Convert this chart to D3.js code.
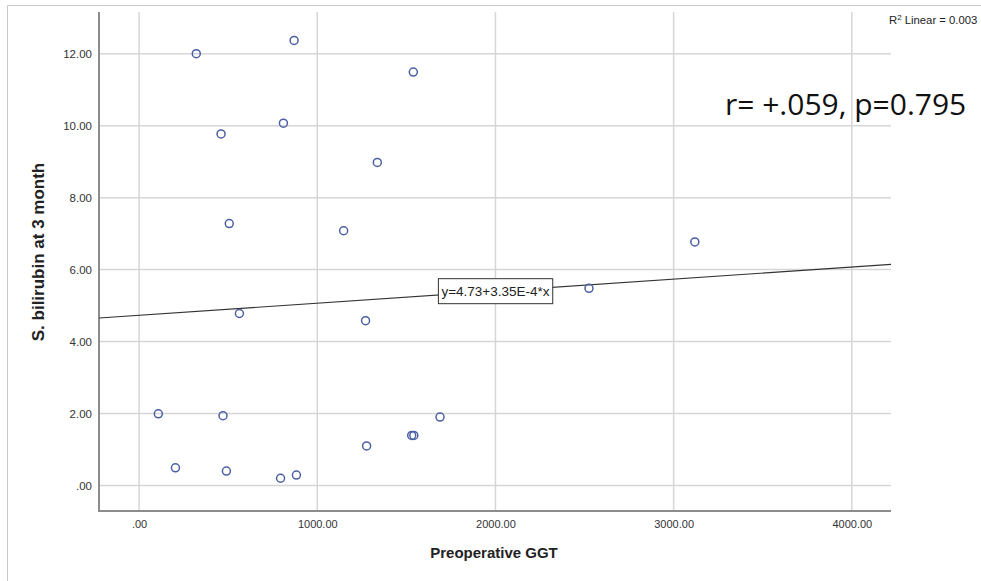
<!DOCTYPE html>
<html>
  <head>
    <meta charset="utf-8">
    <title>Preoperative GGT vs S. bilirubin</title>
    <script src="https://d3js.org/d3.v7.min.js"></script>
    <style>
      body{
        margin: 0;
        background: #fff;
      }
      text{
        font-family: "Liberation Sans", Arial, sans-serif;
      }
    </style>
  </head>
  <body>
    <div id="container"></div>
    <script>

      // DATA
      const ggt = [321, 870, 1539, 460, 810, 1337, 506, 1148, 3119, 2525, 563, 1271,
                   108, 471, 1689, 1530, 1542, 1277, 204, 490, 794, 883];
      const bili = [12.0, 12.37, 11.49, 9.77, 10.07, 8.98, 7.28, 7.08, 6.77, 5.48, 4.78, 4.58,
                    1.99, 1.94, 1.90, 1.39, 1.39, 1.10, 0.49, 0.40, 0.20, 0.29];
      const xTicks = [0, 1000, 2000, 3000, 4000];
      const yTicks = [0, 2, 4, 6, 8, 10, 12];
      const fitIntercept = 4.73, fitSlope = 3.35e-4;
      const fitLabel = "y=4.73+3.35E-4*x";
      const statText = "r= +.059, p=0.795";

      const data = ggt.map((g, i) => ({ x: g, y: bili[i] }));

      // SIZES
      const W = 981, H = 581;
      const plot = { left: 99, right: 891, top: 12, bottom: 511 };

      const svg = d3.select("#container")
        .append("svg")
        .attr("width", W)
        .attr("height", H);

      // outer frame
      svg.append("line").attr("x1", 7.5).attr("x2", 7.5).attr("y1", 5.5).attr("y2", H)
        .attr("stroke", "#c8c8c8");
      svg.append("line").attr("x1", 7.5).attr("x2", W).attr("y1", 5.5).attr("y2", 5.5)
        .attr("stroke", "#c8c8c8");

      // SCALES
      const x = d3.scaleLinear().domain([-225, 4220]).range([plot.left, plot.right]);
      const y = d3.scaleLinear().domain([-0.71, 13.16]).range([plot.bottom, plot.top]);

      // GRID
      svg.append("g").selectAll("line").data(xTicks).join("line")
        .attr("x1", d => x(d)).attr("x2", d => x(d))
        .attr("y1", plot.top).attr("y2", plot.bottom)
        .attr("stroke", "#d6d6d6").attr("stroke-width", 1.5);
      svg.append("g").selectAll("line").data(yTicks).join("line")
        .attr("x1", plot.left).attr("x2", plot.right)
        .attr("y1", d => y(d)).attr("y2", d => y(d))
        .attr("stroke", "#d6d6d6").attr("stroke-width", 1.5);

      // AXES
      const fmt = d => d === 0 ? ".00" : d3.format(".2f")(d);
      const xAxis = svg.append("g")
        .attr("transform", "translate(0," + plot.bottom + ")")
        .call(d3.axisBottom(x).tickValues(xTicks).tickFormat(fmt).tickSize(0).tickPadding(9));
      const yAxis = svg.append("g")
        .attr("transform", "translate(" + plot.left + ",0)")
        .call(d3.axisLeft(y).tickValues(yTicks).tickFormat(fmt).tickSize(0).tickPadding(7));
      [xAxis, yAxis].forEach(a => {
        a.select(".domain").remove();
        a.selectAll("text")
          .attr("fill", "#333")
          .style("font-family", "'Liberation Sans', Arial, sans-serif")
          .style("font-size", "11px");
      });
      yAxis.selectAll("text").style("font-size", "11.5px");
      svg.append("path")
        .attr("d", `M${plot.left},${plot.top}V${plot.bottom}H${plot.right}`)
        .attr("fill", "none")
        .attr("stroke", "#8c8c8c")
        .attr("stroke-width", 2);

      // FIT LINE
      const fit = v => fitIntercept + fitSlope * v;
      const xd = x.domain();
      svg.append("line")
        .attr("x1", x(xd[0])).attr("y1", y(fit(xd[0])))
        .attr("x2", x(xd[1])).attr("y2", y(fit(xd[1])))
        .attr("stroke", "#333").attr("stroke-width", 1.2);

      // POINTS
      svg.append("g").selectAll("circle").data(data).join("circle")
        .attr("cx", d => x(d.x))
        .attr("cy", d => y(d.y))
        .attr("r", 4)
        .attr("fill", "none")
        .attr("stroke", "#4b5fa3")
        .attr("stroke-width", 1.5);

      // FIT LABEL
      const lx = x(2000), ly = y(fit(2000));
      const lab = svg.append("g");
      const lt = lab.append("text")
        .attr("x", lx).attr("y", ly)
        .attr("text-anchor", "middle")
        .attr("dominant-baseline", "central")
        .style("font-size", "13.5px")
        .attr("fill", "#222")
        .text(fitLabel);
      const bb = lt.node().getBBox();
      lab.insert("rect", "text")
        .attr("x", bb.x - 3).attr("y", ly - 12.5)
        .attr("width", bb.width + 6).attr("height", 25)
        .attr("fill", "#fff").attr("stroke", "#333").attr("stroke-width", 1);

      // R2 label
      const r2 = svg.append("text")
        .attr("x", 889).attr("y", 24)
        .style("font-size", "11.3px")
        .attr("fill", "#222");
      r2.append("tspan").text("R");
      r2.append("tspan").attr("dy", -4).style("font-size", "8px").text("2");
      r2.append("tspan").attr("dy", 4).text(" Linear = 0.003");

      // STAT TEXT
      svg.append("text")
        .attr("x", 725).attr("y", 115)
        .style("font-family", "'Open Sans', sans-serif")
        .style("font-size", "30px")
        .attr("fill", "#111")
        .text(statText);

      // AXIS TITLES
      svg.append("text")
        .attr("x", (plot.left + plot.right) / 2 - 1).attr("y", 558)
        .attr("text-anchor", "middle")
        .style("font-size", "15px").style("font-weight", "bold")
        .attr("fill", "#222")
        .text("Preoperative GGT");
      svg.append("text")
        .attr("transform", "translate(44,252) rotate(-90)")
        .attr("text-anchor", "middle")
        .style("font-size", "17px").style("font-weight", "bold")
        .attr("fill", "#222")
        .text("S. bilirubin at 3 month");

    </script>
  </body>
</html>
